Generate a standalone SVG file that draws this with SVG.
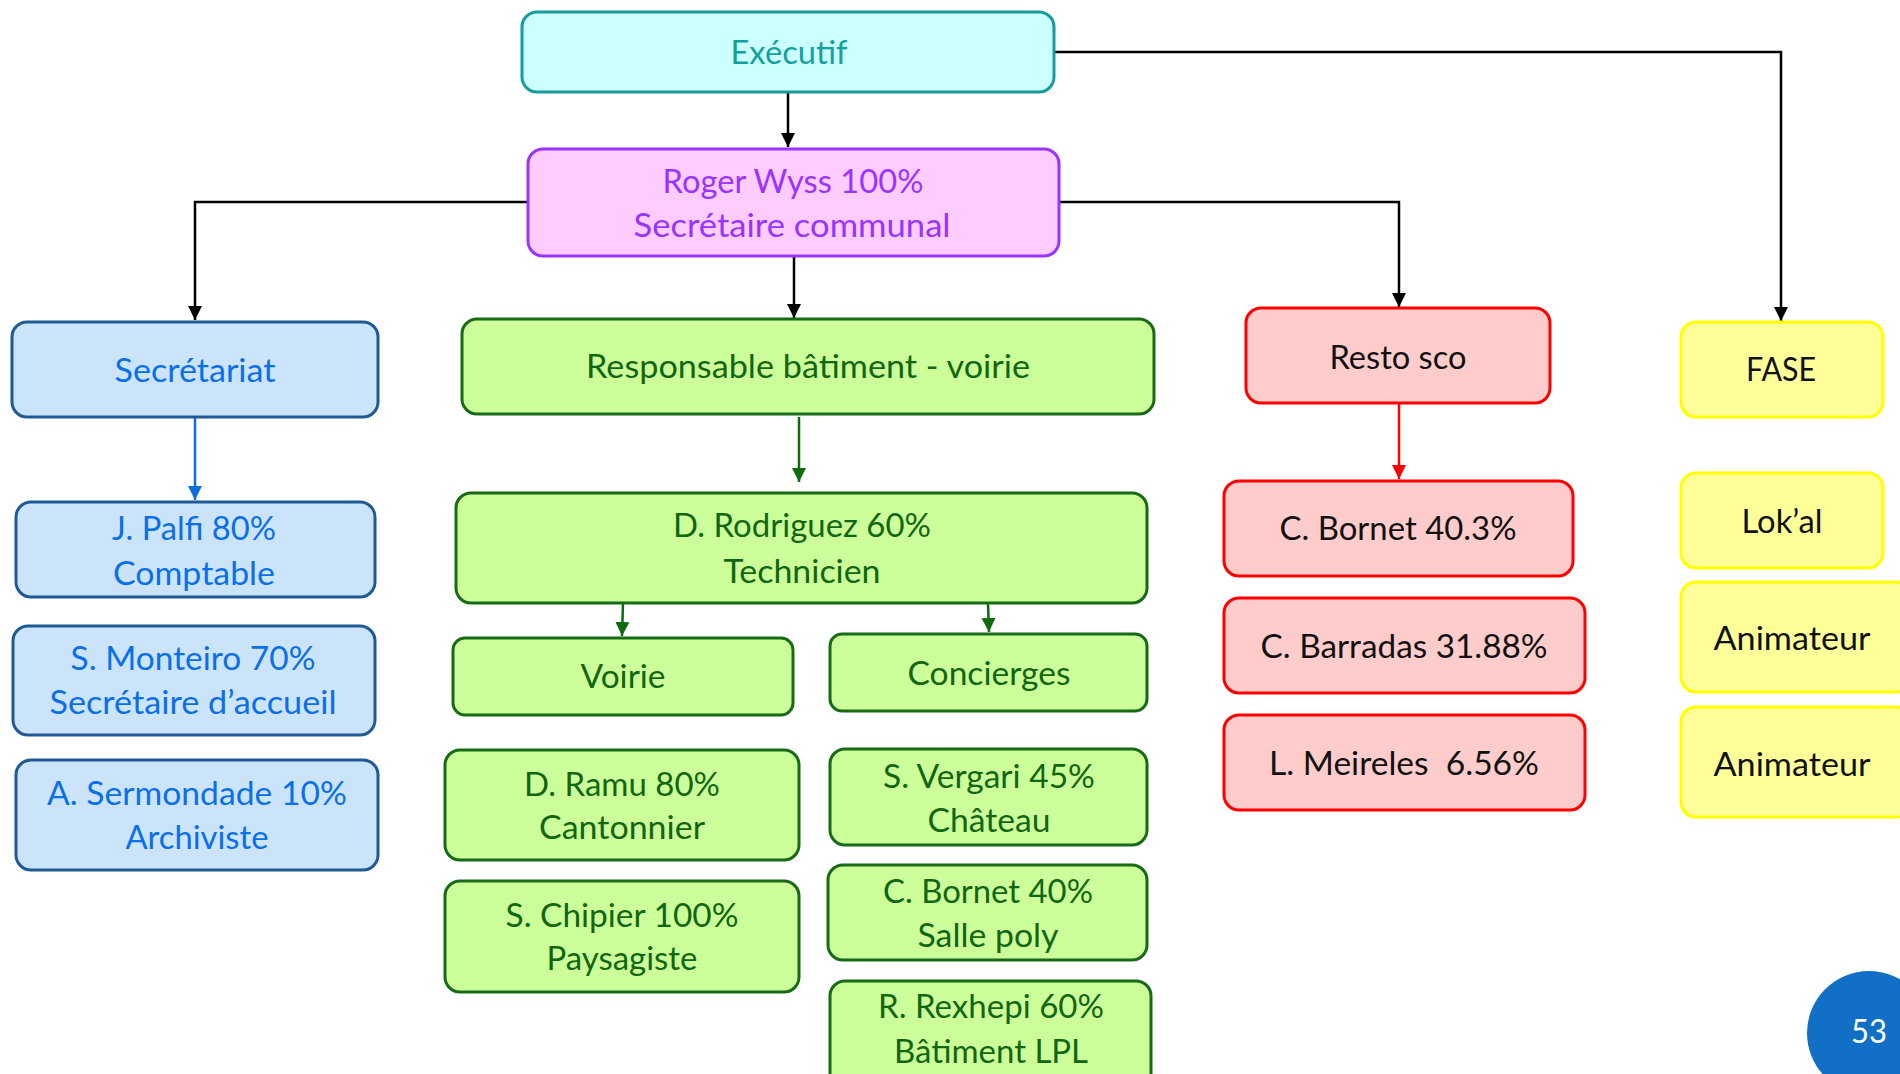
<svg xmlns="http://www.w3.org/2000/svg" width="1900" height="1074" viewBox="0 0 1900 1074">
<style>
text{font-family:Lato,"Noto Sans","Open Sans",sans-serif;font-size:32px;text-anchor:middle;}
.box{stroke-width:3;}
.teal rect{fill:#ccffff;stroke:#179c9c;}
.teal text{fill:#15a0a0;}
.pink rect{fill:#ffccff;stroke:#9933ff;}
.pink text{fill:#9933ff;}
.blue rect{fill:#cce4fa;stroke:#1f5a96;}
.blue text{fill:#0a6fe8;}
.green rect{fill:#ccff99;stroke:#176b17;}
.green text{fill:#116611;}
.red rect{fill:#ffcccc;stroke:#ff0000;}
.red text{fill:#111111;}
.yellow rect{fill:#ffff99;stroke:#ffff00;}
.yellow text{fill:#111111;}
.c{fill:none;stroke-width:2.5;}
</style>
<defs>
<marker id="ak" viewBox="0 0 10 10" refX="10" refY="5" markerWidth="14" markerHeight="16" markerUnits="userSpaceOnUse" orient="auto"><path d="M0,0L10,5L0,10z" fill="#000"/></marker>
<marker id="ab" viewBox="0 0 10 10" refX="10" refY="5" markerWidth="14" markerHeight="16" markerUnits="userSpaceOnUse" orient="auto"><path d="M0,0L10,5L0,10z" fill="#0b6fe0"/></marker>
<marker id="ag" viewBox="0 0 10 10" refX="10" refY="5" markerWidth="14" markerHeight="16" markerUnits="userSpaceOnUse" orient="auto"><path d="M0,0L10,5L0,10z" fill="#0d6b0d"/></marker>
<marker id="ar" viewBox="0 0 10 10" refX="10" refY="5" markerWidth="14" markerHeight="16" markerUnits="userSpaceOnUse" orient="auto"><path d="M0,0L10,5L0,10z" fill="#ff0000"/></marker>
</defs>

<g id="connectors">
<path class="c" stroke="#000" d="M788,92L788,147" marker-end="url(#ak)"/>
<path class="c" stroke="#000" d="M528,202L195,202L195,320" marker-end="url(#ak)"/>
<path class="c" stroke="#000" d="M794,256L794,318" marker-end="url(#ak)"/>
<path class="c" stroke="#000" d="M1059,202L1399,202L1399,307" marker-end="url(#ak)"/>
<path class="c" stroke="#000" d="M1054,52L1781,52L1781,321" marker-end="url(#ak)"/>
<path class="c" stroke="#0b6fe0" d="M195,418L195,500" marker-end="url(#ab)"/>
<path class="c" stroke="#0d6b0d" d="M799,417L799,482" marker-end="url(#ag)"/>
<path class="c" stroke="#0d6b0d" d="M623,603L622,636" marker-end="url(#ag)"/>
<path class="c" stroke="#0d6b0d" d="M988,603L989,632" marker-end="url(#ag)"/>
<path class="c" stroke="#ff0000" d="M1399,404L1399,479" marker-end="url(#ar)"/>
</g>

<g id="executif" class="teal"><rect class="box" x="522" y="12" width="532" height="80" rx="15"/><text x="789" y="64" textLength="117" lengthAdjust="spacingAndGlyphs">Exécutif</text></g>
<g id="roger" class="pink"><rect class="box" x="528" y="149" width="531" height="107" rx="15"/><text x="793" y="193" textLength="261" lengthAdjust="spacingAndGlyphs">Roger Wyss 100%</text><text x="792" y="237" textLength="317" lengthAdjust="spacingAndGlyphs">Secrétaire communal</text></g>

<g id="secretariat" class="blue"><rect class="box" x="12" y="322" width="366" height="95" rx="15"/><text x="195" y="382" textLength="161" lengthAdjust="spacingAndGlyphs">Secrétariat</text></g>
<g id="palfi" class="blue"><rect class="box" x="16" y="502" width="359" height="95" rx="15"/><text x="194" y="540" textLength="164" lengthAdjust="spacingAndGlyphs">J. Palfi 80%</text><text x="194" y="585" textLength="162" lengthAdjust="spacingAndGlyphs">Comptable</text></g>
<g id="monteiro" class="blue"><rect class="box" x="13" y="626" width="362" height="109" rx="15"/><text x="193" y="670" textLength="245" lengthAdjust="spacingAndGlyphs">S. Monteiro 70%</text><text x="193" y="714" textLength="287" lengthAdjust="spacingAndGlyphs">Secrétaire d’accueil</text></g>
<g id="sermondade" class="blue"><rect class="box" x="16" y="760" width="362" height="110" rx="15"/><text x="197" y="805" textLength="300" lengthAdjust="spacingAndGlyphs">A. Sermondade 10%</text><text x="197" y="849" textLength="143" lengthAdjust="spacingAndGlyphs">Archiviste</text></g>

<g id="responsable" class="green"><rect class="box" x="462" y="319" width="692" height="95" rx="15"/><text x="808" y="378" textLength="444" lengthAdjust="spacingAndGlyphs">Responsable bâtiment - voirie</text></g>
<g id="rodriguez" class="green"><rect class="box" x="456" y="493" width="691" height="110" rx="15"/><text x="802" y="537" textLength="258" lengthAdjust="spacingAndGlyphs">D. Rodriguez 60%</text><text x="802" y="583" textLength="157" lengthAdjust="spacingAndGlyphs">Technicien</text></g>
<g id="voirie" class="green"><rect class="box" x="453" y="638" width="340" height="77" rx="12"/><text x="623" y="688" textLength="85" lengthAdjust="spacingAndGlyphs">Voirie</text></g>
<g id="concierges" class="green"><rect class="box" x="830" y="634" width="317" height="77" rx="12"/><text x="989" y="685" textLength="163" lengthAdjust="spacingAndGlyphs">Concierges</text></g>
<g id="ramu" class="green"><rect class="box" x="445" y="750" width="354" height="110" rx="15"/><text x="622" y="796" textLength="196" lengthAdjust="spacingAndGlyphs">D. Ramu 80%</text><text x="622" y="839" textLength="166" lengthAdjust="spacingAndGlyphs">Cantonnier</text></g>
<g id="chipier" class="green"><rect class="box" x="445" y="881" width="354" height="111" rx="15"/><text x="622" y="927" textLength="233" lengthAdjust="spacingAndGlyphs">S. Chipier 100%</text><text x="622" y="970" textLength="151" lengthAdjust="spacingAndGlyphs">Paysagiste</text></g>
<g id="vergari" class="green"><rect class="box" x="830" y="749" width="317" height="96" rx="15"/><text x="989" y="788" textLength="212" lengthAdjust="spacingAndGlyphs">S. Vergari 45%</text><text x="989" y="832" textLength="123" lengthAdjust="spacingAndGlyphs">Château</text></g>
<g id="bornet40" class="green"><rect class="box" x="828" y="865" width="319" height="95" rx="15"/><text x="988" y="903" textLength="210" lengthAdjust="spacingAndGlyphs">C. Bornet 40%</text><text x="988" y="947" textLength="141" lengthAdjust="spacingAndGlyphs">Salle poly</text></g>
<g id="rexhepi" class="green"><rect class="box" x="830" y="981" width="321" height="110" rx="15"/><text x="991" y="1018" textLength="226" lengthAdjust="spacingAndGlyphs">R. Rexhepi 60%</text><text x="991" y="1063" textLength="194" lengthAdjust="spacingAndGlyphs">Bâtiment LPL</text></g>

<g id="resto" class="red"><rect class="box" x="1246" y="308" width="304" height="95" rx="15"/><text x="1398" y="369" textLength="137" lengthAdjust="spacingAndGlyphs">Resto sco</text></g>
<g id="bornet403" class="red"><rect class="box" x="1224" y="481" width="349" height="95" rx="15"/><text x="1398" y="540" textLength="237" lengthAdjust="spacingAndGlyphs">C. Bornet 40.3%</text></g>
<g id="barradas" class="red"><rect class="box" x="1224" y="598" width="361" height="95" rx="15"/><text x="1404" y="658" textLength="287" lengthAdjust="spacingAndGlyphs">C. Barradas 31.88%</text></g>
<g id="meireles" class="red"><rect class="box" x="1224" y="715" width="361" height="95" rx="15"/><text x="1404" y="775" textLength="270" lengthAdjust="spacingAndGlyphs" xml:space="preserve">L. Meireles  6.56%</text></g>

<g id="fase" class="yellow"><rect class="box" x="1681" y="322" width="202" height="95" rx="15"/><text x="1781" y="381" textLength="70" lengthAdjust="spacingAndGlyphs">FASE</text></g>
<g id="lokal" class="yellow"><rect class="box" x="1681" y="473" width="202" height="95" rx="15"/><text x="1782" y="533" textLength="81" lengthAdjust="spacingAndGlyphs">Lok’al</text></g>
<g id="animateur1" class="yellow"><rect class="box" x="1681" y="582" width="230" height="110" rx="15"/><text x="1792" y="650" textLength="157" lengthAdjust="spacingAndGlyphs">Animateur</text></g>
<g id="animateur2" class="yellow"><rect class="box" x="1681" y="707" width="230" height="110" rx="15"/><text x="1792" y="776" textLength="157" lengthAdjust="spacingAndGlyphs">Animateur</text></g>

<g id="page"><circle cx="1869" cy="1033" r="62" fill="#1170c6"/><text x="1869" y="1043" fill="#ffffff" font-size="30" textLength="36" lengthAdjust="spacingAndGlyphs">53</text></g>
</svg>
